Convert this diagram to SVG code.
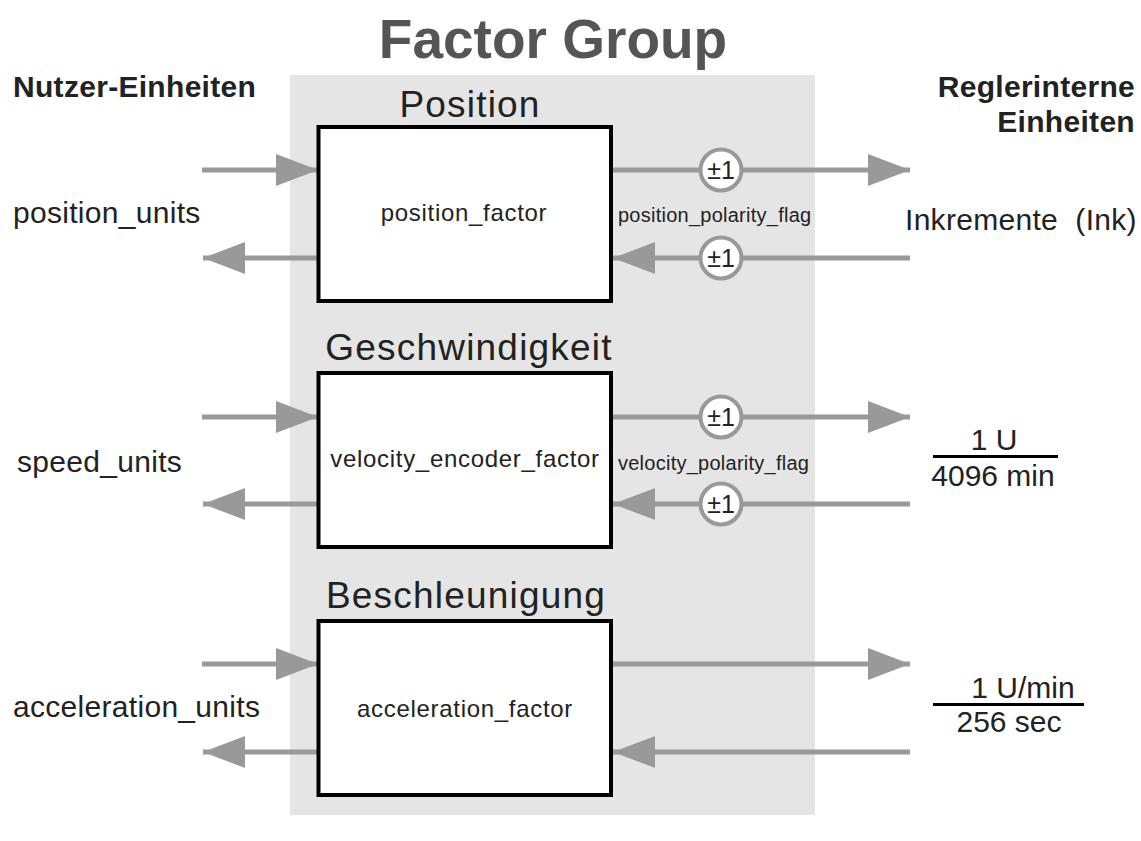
<svg xmlns="http://www.w3.org/2000/svg" width="1141" height="841" viewBox="0 0 1141 841">
  <defs>
    <style>
      text { font-family: "Liberation Sans", Arial, sans-serif; fill: #222; }
      .title { font-size: 55px; font-weight: bold; fill: #555; text-anchor: middle; }
      .head { font-size: 30px; font-weight: bold; letter-spacing: 0.3px; }
      .sect { font-size: 37px; text-anchor: middle; letter-spacing: 1.2px; }
      .lbl { font-size: 30px; letter-spacing: 0.3px; }
      .inbox { font-size: 24px; text-anchor: middle; letter-spacing: 0.7px; }
      .flag { font-size: 20px; letter-spacing: 0.25px; }
      .pm { font-size: 25px; text-anchor: middle; }
      .frac { font-size: 30px; text-anchor: middle; }
      .box { fill: #fff; stroke: #000; stroke-width: 4; }
      .conn { stroke: #999; stroke-width: 5; fill: none; }
      .ring { fill: #fff; stroke: #999; stroke-width: 4; }
      .bar { stroke: #000; stroke-width: 3; }
    </style>
    <marker id="arr" viewBox="0 0 42 32" refX="42" refY="16" markerWidth="42" markerHeight="32" markerUnits="userSpaceOnUse" orient="auto">
      <path d="M0,0 L42,16 L0,32 Z" fill="#999"/>
    </marker>
  </defs>

  <rect width="1141" height="841" fill="#fff"/>

  <!-- shaded factor group area -->
  <rect x="290" y="75" width="525" height="740" fill="#e5e5e5"/>

  <text class="title" x="553" y="58">Factor Group</text>
  <text class="head" x="13" y="97">Nutzer-Einheiten</text>
  <text class="head" x="1135" y="97" text-anchor="end">Reglerinterne</text>
  <text class="head" x="1135" y="132" text-anchor="end">Einheiten</text>

  <!-- connectors -->
  <g id="connectors">
    <line class="conn" x1="202" y1="170" x2="318" y2="170" marker-end="url(#arr)"/>
    <line class="conn" x1="318" y1="258" x2="203" y2="258" marker-end="url(#arr)"/>
    <line class="conn" x1="612" y1="170" x2="910" y2="170" marker-end="url(#arr)"/>
    <line class="conn" x1="910" y1="258" x2="613" y2="258" marker-end="url(#arr)"/>

    <line class="conn" x1="202" y1="417" x2="318" y2="417" marker-end="url(#arr)"/>
    <line class="conn" x1="318" y1="504" x2="203" y2="504" marker-end="url(#arr)"/>
    <line class="conn" x1="612" y1="417" x2="910" y2="417" marker-end="url(#arr)"/>
    <line class="conn" x1="910" y1="504" x2="613" y2="504" marker-end="url(#arr)"/>

    <line class="conn" x1="202" y1="664" x2="318" y2="664" marker-end="url(#arr)"/>
    <line class="conn" x1="318" y1="752" x2="203" y2="752" marker-end="url(#arr)"/>
    <line class="conn" x1="612" y1="664" x2="910" y2="664" marker-end="url(#arr)"/>
    <line class="conn" x1="910" y1="752" x2="613" y2="752" marker-end="url(#arr)"/>
  </g>

  <!-- position -->
  <g id="position">
    <text class="sect" x="470" y="117">Position</text>
    <rect class="box" x="318.5" y="127" width="292.5" height="174"/>
    <text class="inbox" x="464" y="221">position_factor</text>
  </g>
  <g id="position-polarity">
    <circle class="ring" cx="721" cy="170" r="20.5"/>
    <text class="pm" x="721" y="179">±1</text>
    <text class="flag" x="618" y="222">position_polarity_flag</text>
    <circle class="ring" cx="721" cy="258" r="20.5"/>
    <text class="pm" x="721" y="267">±1</text>
  </g>
  <text class="lbl" x="13" y="223">position_units</text>
  <text class="lbl" x="905" y="230" xml:space="preserve" style="white-space:pre">Inkremente  (Ink)</text>

  <!-- velocity -->
  <g id="velocity">
    <text class="sect" x="469" y="360">Geschwindigkeit</text>
    <rect class="box" x="318.5" y="373" width="292.5" height="174"/>
    <text class="inbox" x="465" y="467">velocity_encoder_factor</text>
  </g>
  <g id="velocity-polarity">
    <circle class="ring" cx="721" cy="417" r="20.5"/>
    <text class="pm" x="721" y="426">±1</text>
    <text class="flag" x="618" y="470">velocity_polarity_flag</text>
    <circle class="ring" cx="721" cy="504" r="20.5"/>
    <text class="pm" x="721" y="513">±1</text>
  </g>
  <text class="lbl" x="17" y="472">speed_units</text>
  <g id="velocity-unit">
    <text class="frac" x="994" y="450">1 U</text>
    <line class="bar" x1="933" y1="456.5" x2="1058" y2="456.5"/>
    <text class="frac" x="993" y="486">4096 min</text>
  </g>

  <!-- acceleration -->
  <g id="acceleration">
    <text class="sect" x="466" y="608">Beschleunigung</text>
    <rect class="box" x="318.5" y="621" width="292.5" height="174"/>
    <text class="inbox" x="465" y="717">acceleration_factor</text>
  </g>
  <text class="lbl" x="13" y="717">acceleration_units</text>
  <g id="acceleration-unit">
    <text class="frac" x="1023" y="698">1 U/min</text>
    <line class="bar" x1="933" y1="704.5" x2="1084" y2="704.5"/>
    <text class="frac" x="1009" y="732">256 sec</text>
  </g>
</svg>
